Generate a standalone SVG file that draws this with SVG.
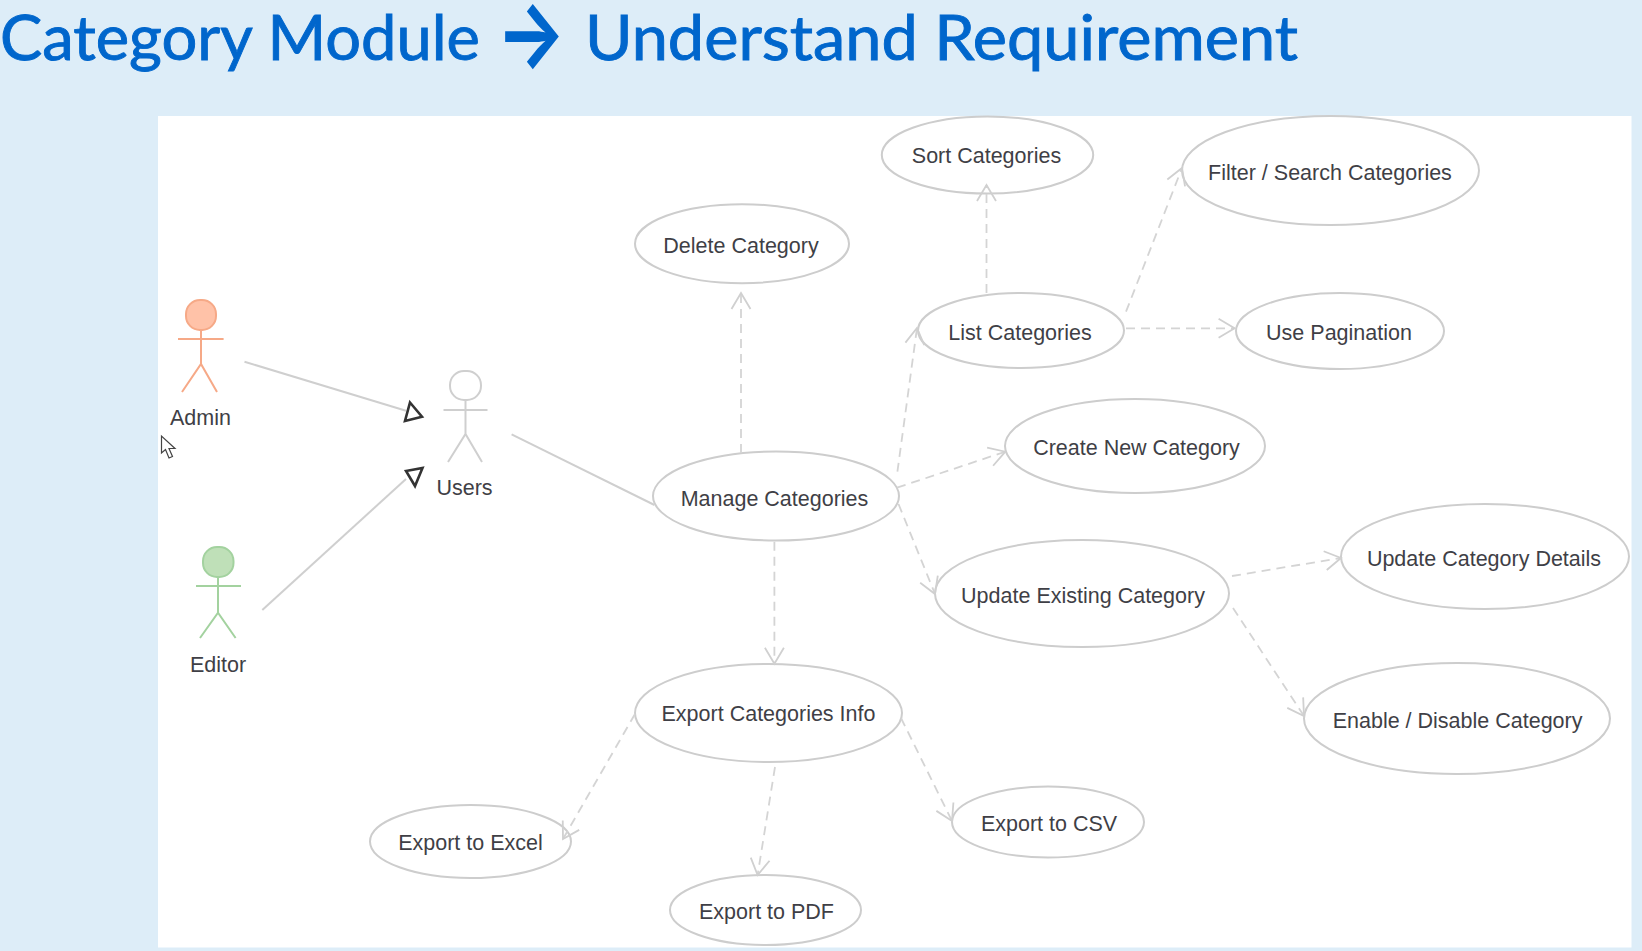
<svg xmlns="http://www.w3.org/2000/svg" width="1642" height="951" viewBox="0 0 1642 951">
<style>
.uc{fill:#fff;stroke:#cdcdcd;stroke-width:2}
.lb{font-family:"Liberation Sans",Arial,sans-serif;font-size:21.500px;fill:#3f3f46;text-anchor:middle}
.t{font-family:Lato,"Open Sans",sans-serif;font-size:61px;fill:#0066cc;stroke:#0066cc;stroke-width:.9}
.assoc{stroke:#cfcfcf;stroke-width:2;fill:none}
.dep{stroke:#d4d4d4;stroke-width:1.800;fill:none;stroke-dasharray:9 6;marker-end:url(#open)}
.tri{fill:#fff;stroke:#333;stroke-width:2.600;stroke-linejoin:miter}
.gl{fill:none;stroke:#cfcfcf;stroke-width:2}
.or{fill:none;stroke:#f6a987;stroke-width:2}
.gr{fill:none;stroke:#a3d29f;stroke-width:2}
</style>
<defs>
<marker id="open" markerUnits="userSpaceOnUse" markerWidth="24" markerHeight="26" refX="20" refY="12" orient="auto" overflow="visible">
<path d="M4,2.500 L20,12 L4,21.500" fill="none" stroke="#d0d0d0" stroke-width="1.800"/>
</marker>
</defs>
<rect width="1642" height="951" fill="#ddedf8"/>
<rect x="158" y="116" width="1473.500" height="831.500" fill="#fff"/>
<g id="title">
<text class="t" x="0" y="59.500" textLength="480" lengthAdjust="spacingAndGlyphs">Category Module</text>
<text x="496" y="66" font-family="Inter, 'DejaVu Sans', sans-serif" font-size="92" font-weight="700" fill="#0066cc" textLength="70" lengthAdjust="spacingAndGlyphs">→</text>
<text class="t" x="585" y="59.500" textLength="713" lengthAdjust="spacingAndGlyphs">Understand Requirement</text>
</g>
<g id="actor-admin">
<rect x="186" y="300" width="30" height="30" rx="14" ry="14" fill="#ffc2a8" stroke="#f6a987" stroke-width="2"/>
<path class="or" d="M178,339H223.600M201,330V364M182,392L201,364L217,392"/>
<text class="lb" x="200.500" y="424.700">Admin</text>
</g>
<g id="actor-users">
<rect x="450" y="371" width="31" height="29" rx="14" ry="14" fill="#fff" stroke="#cfcfcf" stroke-width="2"/>
<path class="gl" d="M443.500,410H487.500M465.500,400V434M448,462L465.500,434L482,462"/>
<text class="lb" x="464.500" y="495">Users</text>
</g>
<g id="actor-editor">
<rect x="203" y="547" width="30.500" height="30" rx="14" ry="14" fill="#bfe0b8" stroke="#a3d29f" stroke-width="2"/>
<path class="gr" d="M196,586H241M218,577V612.700M200,638L218,612.700L235.600,638"/>
<text class="lb" x="218" y="671.700">Editor</text>
</g>
<g id="uc-delete"><ellipse class="uc" cx="742" cy="243.700" rx="107" ry="39.500"/><text class="lb" x="741" y="253">Delete Category</text></g>
<g id="uc-sort"><ellipse class="uc" cx="987.500" cy="155" rx="105.700" ry="38.500"/><text class="lb" x="986.500" y="163">Sort Categories</text></g>
<g id="uc-filter"><ellipse class="uc" cx="1330.500" cy="170.500" rx="148.500" ry="54.500"/><text class="lb" x="1330" y="179.500">Filter / Search Categories</text></g>
<g id="uc-list"><ellipse class="uc" cx="1021" cy="330.500" rx="103" ry="37.500"/><text class="lb" x="1020" y="340">List Categories</text></g>
<g id="uc-pagination"><ellipse class="uc" cx="1340" cy="331" rx="104" ry="38"/><text class="lb" x="1339" y="340">Use Pagination</text></g>
<g id="uc-create"><ellipse class="uc" cx="1135" cy="446" rx="130" ry="47"/><text class="lb" x="1136.500" y="455">Create New Category</text></g>
<g id="uc-manage"><ellipse class="uc" cx="776" cy="496" rx="123" ry="44.500"/><text class="lb" x="774.500" y="506">Manage Categories</text></g>
<g id="uc-update"><ellipse class="uc" cx="1082" cy="593.500" rx="147" ry="53.500"/><text class="lb" x="1083" y="602.700">Update Existing Category</text></g>
<g id="uc-details"><ellipse class="uc" cx="1485" cy="556.500" rx="144" ry="52.500"/><text class="lb" x="1484" y="566">Update Category Details</text></g>
<g id="uc-enable"><ellipse class="uc" cx="1457" cy="718.500" rx="153" ry="55.500"/><text class="lb" x="1457.600" y="728">Enable / Disable Category</text></g>
<g id="uc-export"><ellipse class="uc" cx="768.500" cy="713" rx="133.500" ry="49"/><text class="lb" x="768.500" y="721">Export Categories Info</text></g>
<g id="uc-excel"><ellipse class="uc" cx="470.500" cy="841.500" rx="100.500" ry="36.500"/><text class="lb" x="470.500" y="850">Export to Excel</text></g>
<g id="uc-pdf"><ellipse class="uc" cx="765.500" cy="910" rx="95.500" ry="35"/><text class="lb" x="766.500" y="919">Export to PDF</text></g>
<g id="uc-csv"><ellipse class="uc" cx="1048" cy="822" rx="96" ry="35.500"/><text class="lb" x="1049" y="831">Export to CSV</text></g>
<g id="connectors">
<path class="assoc" d="M244.500,361.700L406,410.700"/>
<path class="assoc" d="M262.300,610L406,479"/>
<path class="assoc" d="M511.600,434.300L654.500,505"/>
<polygon class="tri" points="410,402.500 422,416.700 405,421"/>
<polygon class="tri" points="406,471 422.500,468 415,486"/>
<path class="dep" d="M741,453L741,293"/>
<path class="dep" d="M986.500,293L986.500,185"/>
<path class="dep" d="M1126,311.700L1182,168"/>
<path class="dep" d="M1126,328.300L1234.600,328.300"/>
<path class="dep" d="M897.400,471.700L917,328"/>
<path class="dep" d="M897,487.700L1005.300,451.700"/>
<path class="dep" d="M898.500,504L935,594"/>
<path class="dep" d="M774.400,541.700L774.400,663.700"/>
<path class="dep" d="M1232,576L1341,558"/>
<path class="dep" d="M1233,608L1304,716"/>
<path class="dep" d="M635,714L563,839"/>
<path class="dep" d="M775,767L757.600,875"/>
<path class="dep" d="M901,718L952,821"/>
</g>
<path id="cursor" d="M161.500,436L161.500,453L165.500,449.500L169,458L172.500,456.500L169,448.500L175,448.500Z" fill="#fff" stroke="#444" stroke-width="1.200"/>
</svg>
